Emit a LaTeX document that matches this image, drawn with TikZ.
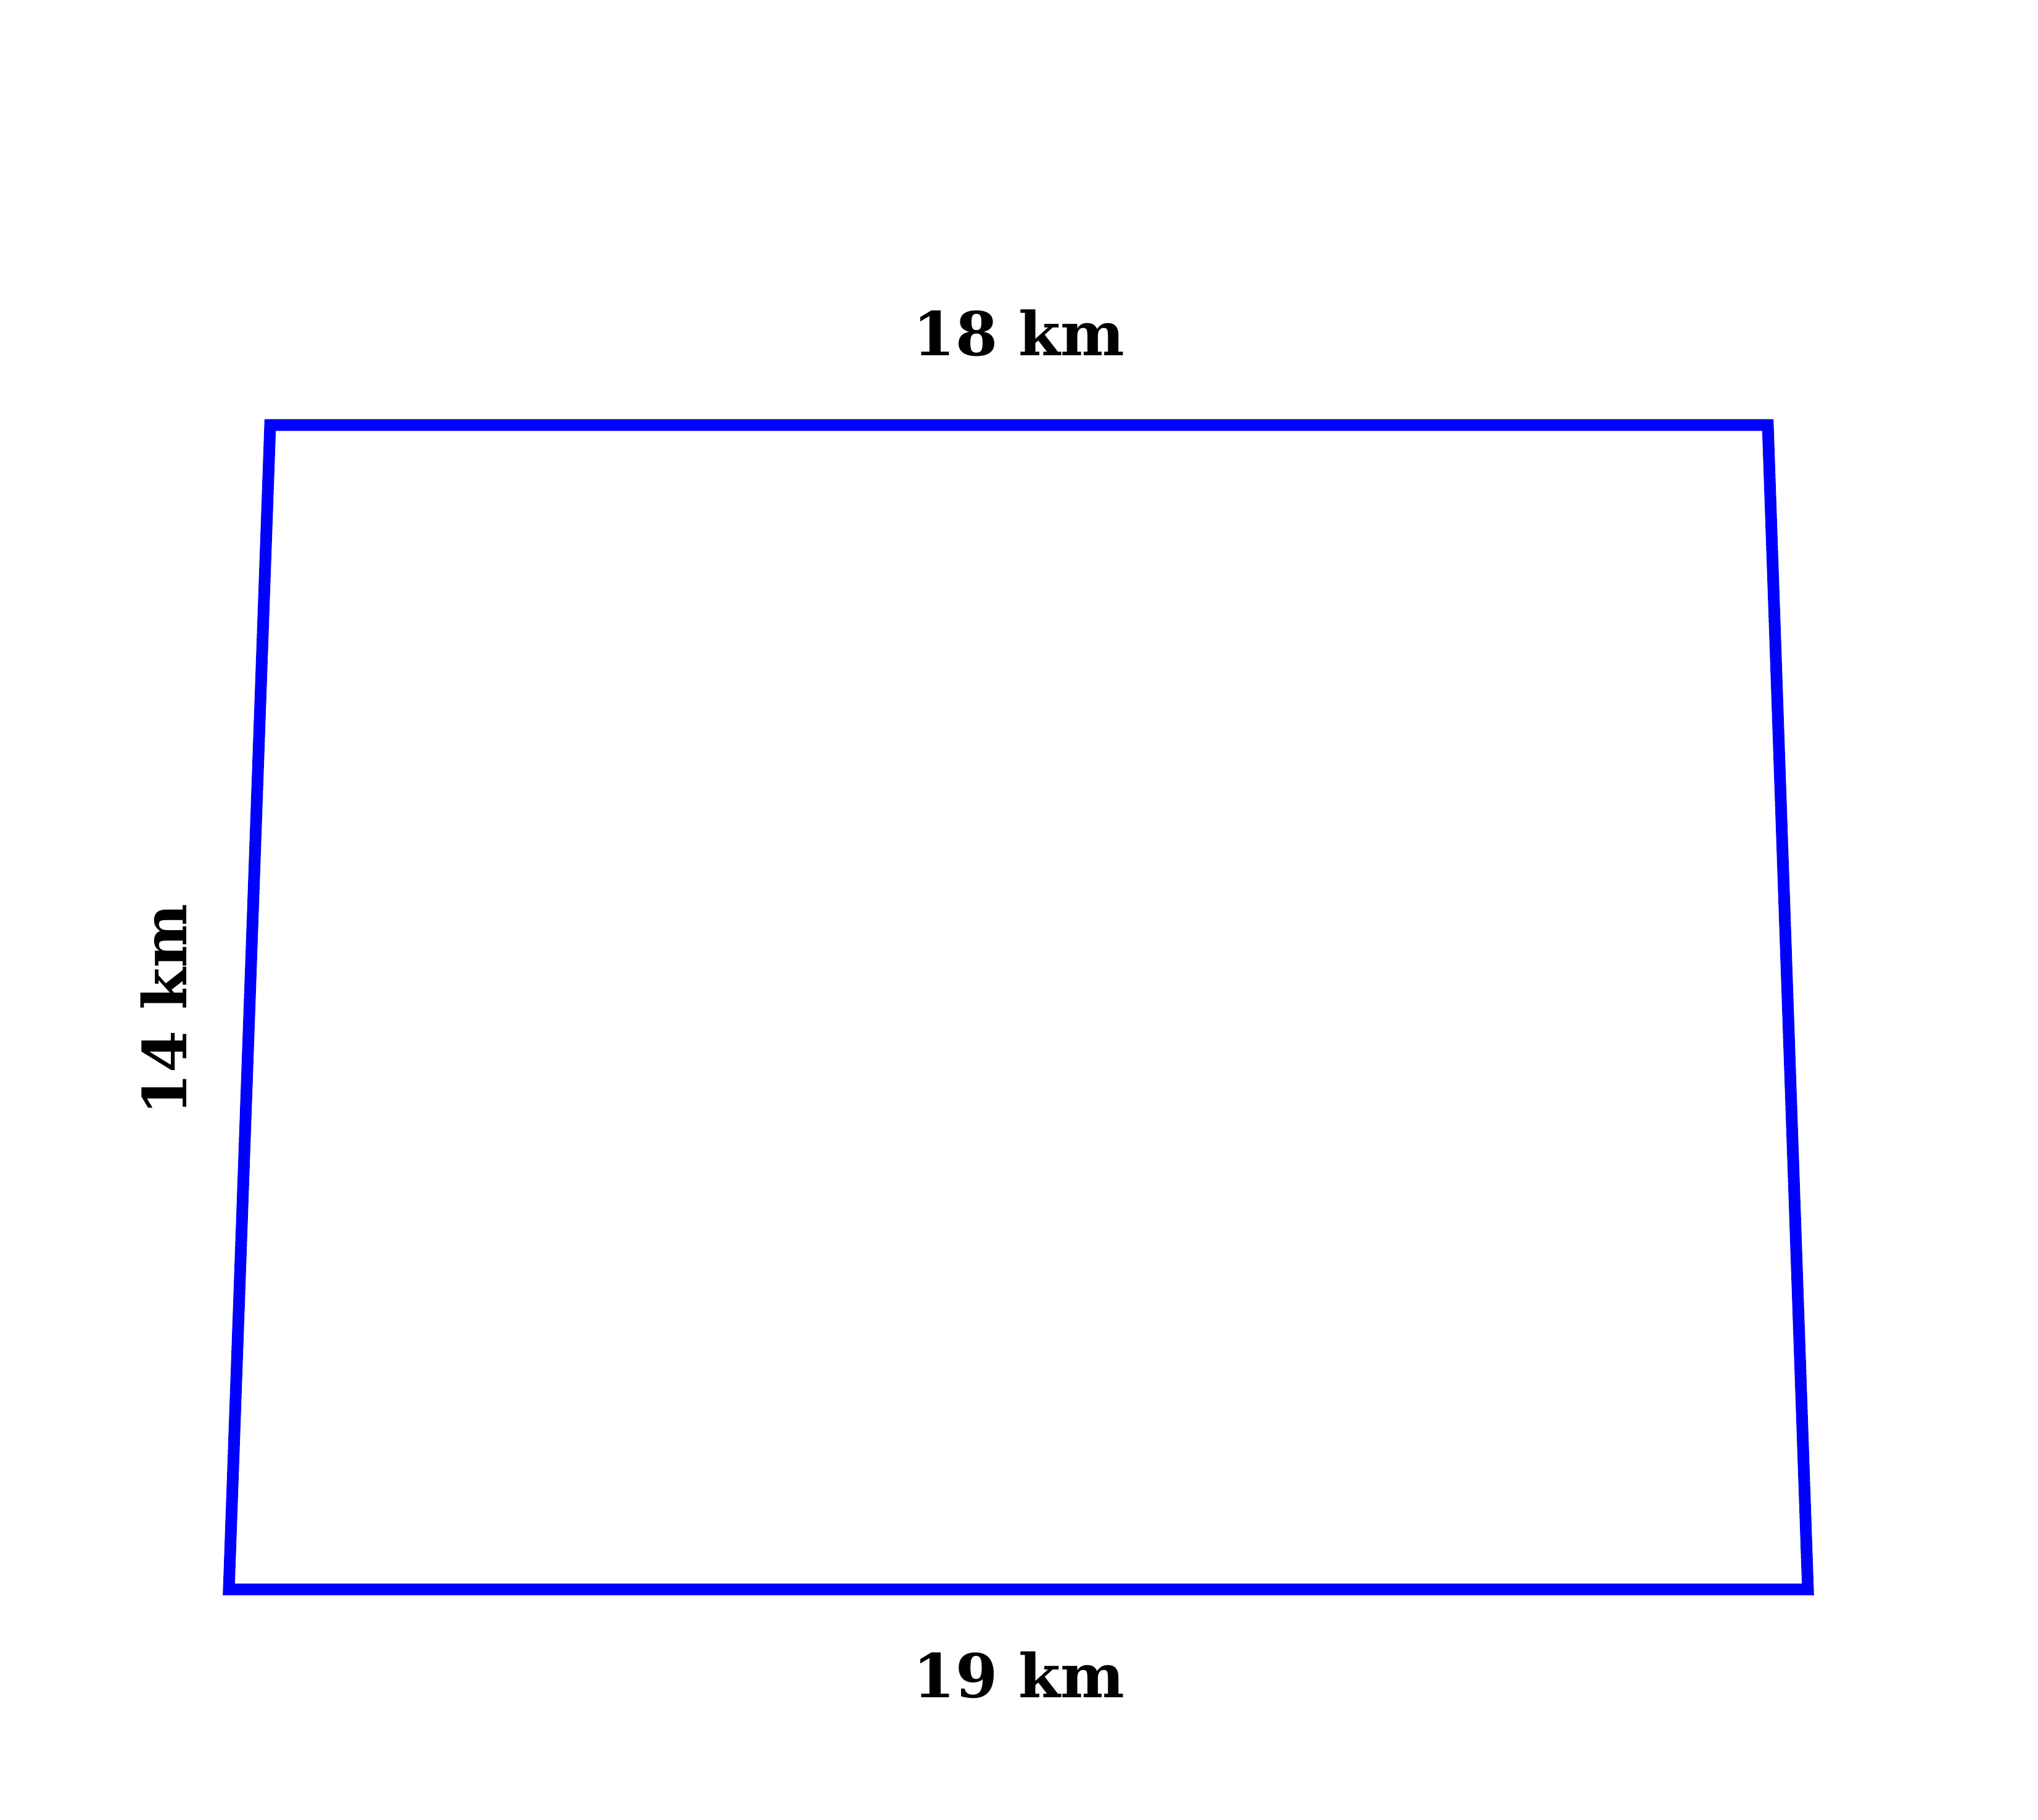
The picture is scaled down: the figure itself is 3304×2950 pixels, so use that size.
\documentclass[tikz,border=0pt]{standalone}
\usepackage{fontspec}
\setmainfont{DejaVu Serif}
\begin{document}
\begin{tikzpicture}[x=0.1pt,y=-0.1pt,
  edge/.style={draw=blue,line width=1.9pt,line join=miter},
  lbl/.style={font=\fontsize{9.8}{12}\selectfont\bfseries,inner sep=0pt}]
\useasboundingbox (0,0) rectangle (3304,2950);
\coordinate (tl) at (438,689);
\coordinate (tr) at (2866,689);
\coordinate (br) at (2931,2577);
\coordinate (bl) at (371,2577);
\draw[edge] (tl) -- (tr) -- (br) -- (bl) -- cycle;
\node[lbl] (top) at (1652,540) {18 km};
\node[lbl] (bot) at (1652,2716) {19 km};
\node[lbl,rotate=90] (left) at (265,1637) {14 km};
\end{tikzpicture}
\end{document}
